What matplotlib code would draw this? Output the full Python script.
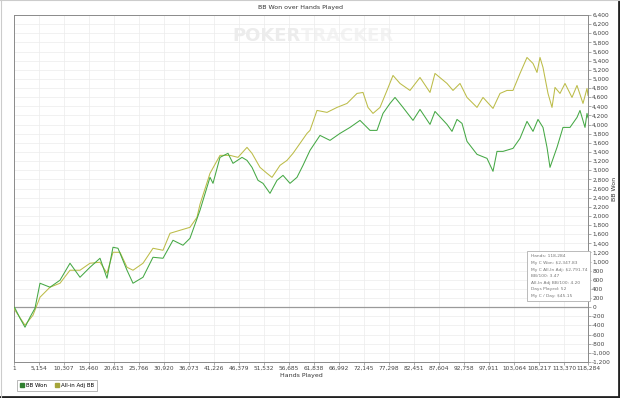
import matplotlib
matplotlib.use("Agg")
import matplotlib.pyplot as plt
from matplotlib.lines import Line2D

# ---- data ----
won_hands = [1, 206, 1236, 2267, 3297, 4327, 5358, 7419, 9479, 11540, 13601, 15661,
             17722, 19164, 20401, 21431, 23286, 24522, 26583, 28644, 30704, 32765,
             34826, 36268, 38329, 40390, 41008, 42450, 44099, 45129, 46984, 48014,
             49045, 50281, 51311, 52754, 54196, 55433, 56875, 58318, 59554, 60997,
             63057, 65118, 67179, 69240, 71300, 73361, 74803, 76040, 77482, 78513,
             80161, 82222, 83664, 85725, 86755, 89228, 90259, 91289, 92319, 93349,
             95410, 97471, 98708, 99532, 100768, 102829, 104272, 105714, 106951,
             107981, 109011, 109836, 110454, 111896, 113132, 114575, 116017, 116635,
             117666, 118078, 118284]
won_bb = [0, -22, -241, -438, -219, -22, 525, 438, 591, 963, 656, 875,
          1072, 635, 1313, 1291, 810, 525, 656, 1094, 1072, 1466,
          1357, 1510, 2123, 2845, 2713, 3282, 3370, 3151, 3282, 3216,
          3063, 2779, 2713, 2494, 2779, 2888, 2713, 2845, 3107, 3435,
          3763, 3654, 3807, 3938, 4092, 3873, 3873, 4245, 4463, 4595,
          4376, 4092, 4332, 4004, 4288, 4004, 3851, 4113, 4026, 3632,
          3348, 3260, 2976, 3413, 3413, 3479, 3698, 4070, 3851,
          4113, 3938, 3501, 3063, 3501, 3938, 3938, 4157, 4310,
          3938, 4245, 4150]

adj_hands = [1, 206, 2267, 3915, 5358, 7419, 9479, 11540, 13601, 15661, 17722,
             19164, 20401, 21843, 23286, 24522, 26583, 28644, 30704, 32147, 34208,
             36268, 37711, 38329, 40390, 42450, 44511, 46160, 48014, 49045, 50693,
             52136, 53166, 54815, 56257, 57494, 58936, 60379, 60997, 62439, 64500,
             66561, 68621, 70682, 71918, 72949, 73979, 75422, 76864, 78101, 79543,
             81604, 83664, 85725, 86755, 89228, 90465, 91907, 93349, 95410, 96647,
             98708, 100150, 101593, 102829, 104272, 105714, 106951, 107775, 108393,
             109011, 110042, 110866, 111484, 112514, 113545, 114987, 116017, 117254,
             118078, 118284]
adj_bb = [0, -66, -394, -175, 219, 438, 525, 810, 810, 963, 985,
          744, 1203, 1203, 875, 810, 963, 1291, 1247, 1619, 1685,
          1750, 1969, 2254, 2932, 3326, 3326, 3282, 3501, 3370, 3063,
          2932, 2844, 3107, 3216, 3370, 3588, 3807, 3873, 4310, 4267,
          4376, 4463, 4682, 4704, 4376, 4245, 4376, 4748, 5076, 4901,
          4748, 5032, 4704, 5120, 4901, 4748, 4901, 4595, 4376, 4595,
          4354, 4682, 4748, 4748, 5120, 5470, 5339, 5142, 5470,
          5251, 4682, 4376, 4814, 4682, 4901, 4595, 4857, 4463,
          4792, 4639]

x_ticks = [1, 5154, 10307, 15460, 20613, 25766, 30920, 36073, 41226, 46379, 51532,
           56685, 61838, 66992, 72145, 77298, 82451, 87604, 92758, 97911, 103064,
           108217, 113370, 118284]
y_ticks = list(range(-1200, 6401, 200))

stats_lines = ["Hands: 118,284", "My C Won: $2,347.83", "My C All-In Adj: $2,791.74",
               "BB/100: 3.47", "All-In Adj BB/100: 4.20", "Days Played: 52",
               "My C / Day: $45.15"]

green = "#45a845"
olive = "#bcbc48"

fig = plt.figure(figsize=(6.2, 3.98), dpi=100)
fig.patch.set_facecolor("white")
ax = fig.add_axes([14/620, 1-362/398, (588-14)/620, (362-15)/398])

ax.plot(adj_hands, adj_bb, color=olive, lw=0.75, zorder=3)
ax.plot(won_hands, won_bb, color=green, lw=0.75, zorder=4)
ax.axhline(0, color="#9a9a9a", lw=0.9, zorder=2)

ax.set_xlim(1, 118284)
ax.set_ylim(-1200, 6400)
ax.set_xticks(x_ticks)
ax.set_xticklabels([f"{v:,}" for v in x_ticks], fontsize=4.2, color="#444444")
ax.set_yticks(y_ticks)
ax.set_yticklabels([f"{v:,}" for v in y_ticks], fontsize=4.2, color="#444444")
ax.yaxis.tick_right()
ax.yaxis.set_label_position("right")
ax.tick_params(axis="both", length=2, width=0.5, color="#888888", pad=1)
ax.grid(True, color="#ececec", lw=0.5, zorder=0)
for s in ax.spines.values():
    s.set_color("#8a8a8a")
    s.set_linewidth(0.7)
ax.set_xlabel("Hands Played", fontsize=4.5, color="#333333", labelpad=1.5)
ax.set_ylabel("BB Won", fontsize=4.5, color="#333333", labelpad=1)
ax.set_title("BB Won over Hands Played", fontsize=4.5, color="#333333", pad=4)

# watermark
ax.text(0.5, 0.94, "POKER", transform=ax.transAxes, ha="right", va="center",
        fontsize=13, color="#ececec", fontweight="bold", zorder=1)
ax.text(0.5, 0.94, "TRACKER", transform=ax.transAxes, ha="left", va="center",
        fontsize=13, color="#f3f3f3", fontweight="bold", zorder=1)

# stats box
ax.text(0.9, 0.31, "\n".join(stats_lines), transform=ax.transAxes, ha="left", va="top",
        fontsize=3.2, color="#777777", linespacing=1.85, zorder=5,
        bbox=dict(boxstyle="square,pad=0.7", fc="white", ec="#b0b0b0", lw=0.6))

# legend
handles = [Line2D([], [], marker="s", ls="", color="#2f7f2f", markersize=3),
           Line2D([], [], marker="s", ls="", color="#a5a53a", markersize=3)]
leg = fig.legend(handles, ["BB Won", "All-in Adj BB"], loc="lower left",
                 bbox_to_anchor=(14/620, 1-394/398), ncol=2, fontsize=4,
                 frameon=True, fancybox=False, edgecolor="#999999",
                 handletextpad=0.2, columnspacing=1.5, borderpad=0.6, handlelength=0.8)
leg.get_frame().set_linewidth(0.6)

# outer frame with dark bottom/right edge
fig.add_artist(Line2D([0, 1], [0.002, 0.002], transform=fig.transFigure, color="#222222", lw=2))
fig.add_artist(Line2D([0.998, 0.998], [0, 1], transform=fig.transFigure, color="#222222", lw=2))
fig.add_artist(Line2D([0.001, 0.001], [0, 1], transform=fig.transFigure, color="#cccccc", lw=0.8))
fig.add_artist(Line2D([0, 1], [0.999, 0.999], transform=fig.transFigure, color="#cccccc", lw=0.8))

fig.savefig("out.png", dpi=100, facecolor="white")
